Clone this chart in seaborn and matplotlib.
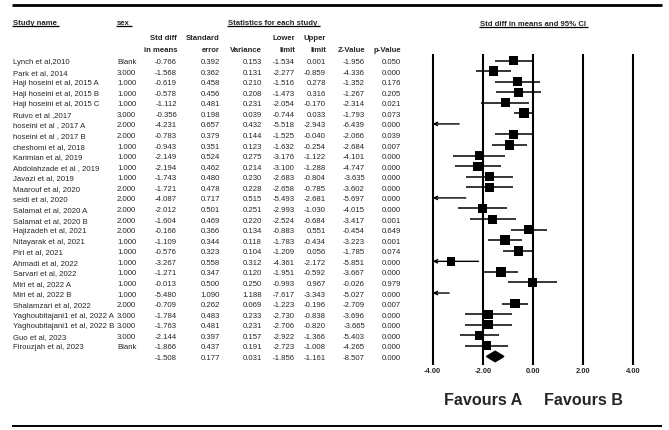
import numpy as np
import pandas as pd
import matplotlib
matplotlib.use("Agg")
import matplotlib.pyplot as plt
import seaborn as sns
from matplotlib.patches import Polygon

studies = ["Lynch et al,2010", "Park et al, 2014", "Haji hoseini et al, 2015 A",
           "Haji hoseini et al, 2015 B", "Haji hoseini et al, 2015 C", "Ruivo et al ,2017",
           "hoseini et al , 2017 A", "hoseini et al , 2017 B", "cheshomi et al, 2018",
           "Karimian et al, 2019", "Abdolahzade et al , 2019", "Javazi et al, 2019",
           "Maarouf et al, 2020", "seidi et al, 2020", "Salamat et al, 2020 A",
           "Salamat et al, 2020 B", "Hajizadeh et al, 2021", "Nitayarak et al, 2021",
           "Piri et al, 2021", "Ahmadi et al, 2022", "Sarvari et al, 2022", "Miri et al, 2022 A",
           "Miri et al, 2022 B", "Shalamzari et al, 2022", "Yaghoubitajani1 et al, 2022 A",
           "Yaghoubitajani1 et al, 2022 B", "Guo et al, 2023", "Firouzjah et al, 2023"]
sex = ["Blank", "3.000", "1.000", "1.000", "1.000", "3.000", "2.000", "2.000", "1.000",
       "1.000", "1.000", "1.000", "2.000", "2.000", "2.000", "2.000", "2.000", "1.000",
       "1.000", "1.000", "1.000", "1.000", "1.000", "2.000", "3.000", "3.000", "3.000", "Blank"]
smd = [-0.766, -1.568, -0.619, -0.578, -1.112, -0.356, -4.231, -0.783, -0.943, -2.149,
       -2.194, -1.743, -1.721, -4.087, -2.012, -1.604, -0.166, -1.109, -0.576, -3.267,
       -1.271, -0.013, -5.480, -0.709, -1.784, -1.763, -2.144, -1.866]
std_err = [0.392, 0.362, 0.458, 0.456, 0.481, 0.198, 0.657, 0.379, 0.351, 0.524, 0.462,
           0.480, 0.478, 0.717, 0.501, 0.469, 0.366, 0.344, 0.323, 0.558, 0.347, 0.500,
           1.090, 0.262, 0.483, 0.481, 0.397, 0.437]
variance = [0.153, 0.131, 0.210, 0.208, 0.231, 0.039, 0.432, 0.144, 0.123, 0.275, 0.214,
            0.230, 0.228, 0.515, 0.251, 0.220, 0.134, 0.118, 0.104, 0.312, 0.120, 0.250,
            1.188, 0.069, 0.233, 0.231, 0.157, 0.191]
lower = [-1.534, -2.277, -1.516, -1.473, -2.054, -0.744, -5.518, -1.525, -1.632, -3.176,
         -3.100, -2.683, -2.658, -5.493, -2.993, -2.524, -0.883, -1.783, -1.209, -4.361,
         -1.951, -0.993, -7.617, -1.223, -2.730, -2.706, -2.922, -2.723]
upper = [0.001, -0.859, 0.278, 0.316, -0.170, 0.033, -2.943, -0.040, -0.254, -1.122,
         -1.288, -0.804, -0.785, -2.681, -1.030, -0.684, 0.551, -0.434, 0.056, -2.172,
         -0.592, 0.967, -3.343, -0.196, -0.838, -0.820, -1.366, -1.008]
z_value = [-1.956, -4.336, -1.352, -1.267, -2.314, -1.793, -6.439, -2.066, -2.684, -4.101,
           -4.747, -3.635, -3.602, -5.697, -4.015, -3.417, -0.454, -3.223, -1.785, -5.851,
           -3.667, -0.026, -5.027, -2.709, -3.696, -3.665, -5.403, -4.265]
p_value = [0.050, 0.000, 0.176, 0.205, 0.021, 0.073, 0.000, 0.039, 0.007, 0.000, 0.000,
           0.000, 0.000, 0.000, 0.000, 0.001, 0.649, 0.001, 0.074, 0.000, 0.000, 0.979,
           0.000, 0.007, 0.000, 0.000, 0.000, 0.000]

pooled = [-1.508, 0.177, 0.031, -1.856, -1.161, -8.507, 0.000]  # smd, se, var, lower, upper, z, p
x_ticks = [-4.0, -2.0, 0.0, 2.0, 4.0]

sns.set_theme(style="white")
plt.rcParams['font.family'] = ['Liberation Sans', 'DejaVu Sans']

W, H = 669, 431
ROW0, ROWH = 61.5, 10.57          # pixel y of first row, row spacing
X_LEFT_PX, X_RIGHT_PX = 432.7, 633.3  # pixel x of -4 and +4
FS = 5.6
VA = "center_baseline"

df = pd.DataFrame({"study": studies, "sex": sex, "smd": smd, "se": std_err, "var": variance,
                   "lower": lower, "upper": upper, "z": z_value, "p": p_value})
df["row"] = np.arange(len(df))
# random-effects (DerSimonian-Laird) weights for the box sizes
w = 1 / df["var"]
fixed = (w * df["smd"]).sum() / w.sum()
q = (w * (df["smd"] - fixed) ** 2).sum()
tau2 = max(0, (q - (len(df) - 1)) / (w.sum() - (w ** 2).sum() / w.sum()))
df["weight"] = 1 / (df["var"] + tau2)
pool_row = len(df)

fig = plt.figure(figsize=(W / 100, H / 100), dpi=100)

# forest axes: x in effect units, y in row units, spanning the whole figure
scale = (X_RIGHT_PX - X_LEFT_PX) / 8.0
xlim = (-4 - X_LEFT_PX / scale, -4 + (W - X_LEFT_PX) / scale)
ylim = ((H - ROW0) / ROWH, -ROW0 / ROWH)
ax = fig.add_axes([0, 0, 1, 1])

# table axes: pixel coords
tab = fig.add_axes([0, 0, 1, 1], facecolor="none")
tab.set_xlim(0, W)
tab.set_ylim(H, 0)
tab.axis("off")


def row_y(i):
    return ROW0 + ROWH * i


top_row = (55 - ROW0) / ROWH
bot_row = (366 - ROW0) / ROWH
ax.vlines(x_ticks, top_row, bot_row, color="black", lw=1.5)

for _, r in df.iterrows():
    lo, hi = max(r["lower"], -4), min(r["upper"], 4)
    if r["lower"] < -4:
        ax.annotate("", xy=(-4, r["row"]), xytext=(hi, r["row"]),
                    arrowprops=dict(arrowstyle="->", lw=1.0, color="black",
                                    mutation_scale=6, shrinkA=0, shrinkB=0))
    else:
        ax.hlines(r["row"], lo, hi, color="black", lw=1.1)

visible = df[(df["smd"] >= -4) & (df["smd"] <= 4)]
sns.scatterplot(data=visible, x="smd", y="row", size="weight", sizes=(28, 50),
                size_norm=(df["weight"].min(), df["weight"].max()),
                marker="s", color="black", edgecolor="black", linewidth=0,
                legend=False, ax=ax, zorder=3)

half_h = 0.5
diamond = Polygon([(pooled[3], pool_row), (pooled[0], pool_row - half_h),
                   (pooled[4], pool_row), (pooled[0], pool_row + half_h)],
                  closed=True, color="black")
ax.add_patch(diamond)

tick_row = (371 - ROW0) / ROWH
for t in x_ticks:
    ax.text(t, tick_row, f"{t:.2f}", ha="center", va=VA, fontsize=5.4,
            fontweight="bold")
fav_row = (399 - ROW0) / ROWH
ax.text(-2, fav_row, "Favours A", ha="center", va=VA, fontsize=11.6, fontweight="bold")
ax.text(2, fav_row, "Favours B", ha="center", va=VA, fontsize=11.6, fontweight="bold")

ax.set_xlim(*xlim)
ax.set_ylim(*ylim)
ax.axis("off")

# table text
cols = [("smd", 177), ("se", 220), ("var", 262), ("lower", 295), ("upper", 326),
        ("z", 365), ("p", 401)]
for _, r in df.iterrows():
    y = row_y(r["row"])
    tab.text(13, y, r["study"], ha="left", va=VA, fontsize=FS)
    tab.text(117, y, r["sex"], ha="left", va=VA, fontsize=FS)
    for key, xr in cols:
        tab.text(xr, y, f"{r[key]:.3f}", ha="right", va=VA, fontsize=FS)
y = row_y(pool_row)
for (key, xr), val in zip(cols, pooled):
    tab.text(xr, y, f"{val:.3f}", ha="right", va=VA, fontsize=FS)

# headers
renderer = fig.canvas.get_renderer()


def underlined(x, y, s, ha="left", uy=None):
    t = tab.text(x, y, s, ha=ha, va=VA, fontsize=FS, fontweight="bold")
    bb = t.get_window_extent(renderer).transformed(tab.transData.inverted())
    tab.plot([bb.x0 - 1, bb.x1 + 2], [uy, uy], color="black", lw=0.9,
             solid_capstyle="butt")


underlined(13, 22.5, "Study name", uy=26.5)
underlined(117, 22.5, "sex", uy=26.5)
underlined(273, 22.5, "Statistics for each study", ha="center", uy=26.5)
underlined(533, 23.3, "Std diff in means and 95% CI", ha="center", uy=27.7)

headers = [("Std diff", "in means", 177), ("Standard", "error", 220), (None, "Variance", 262),
           ("Lower", "limit", 295), ("Upper", "limit", 326), (None, "Z-Value", 365),
           (None, "p-Value", 401)]
for l1, l2, xr in headers:
    if l1:
        tab.text(xr, 37, l1, ha="right", va=VA, fontsize=FS, fontweight="bold")
    tab.text(xr, 49.5, l2, ha="right", va=VA, fontsize=FS, fontweight="bold")

tab.plot([12, 662], [6.3, 6.3], color="black", lw=2.0, solid_capstyle="butt")
tab.plot([12, 662], [427, 427], color="black", lw=1.4, solid_capstyle="butt")

fig.savefig("out.png", dpi=100)
